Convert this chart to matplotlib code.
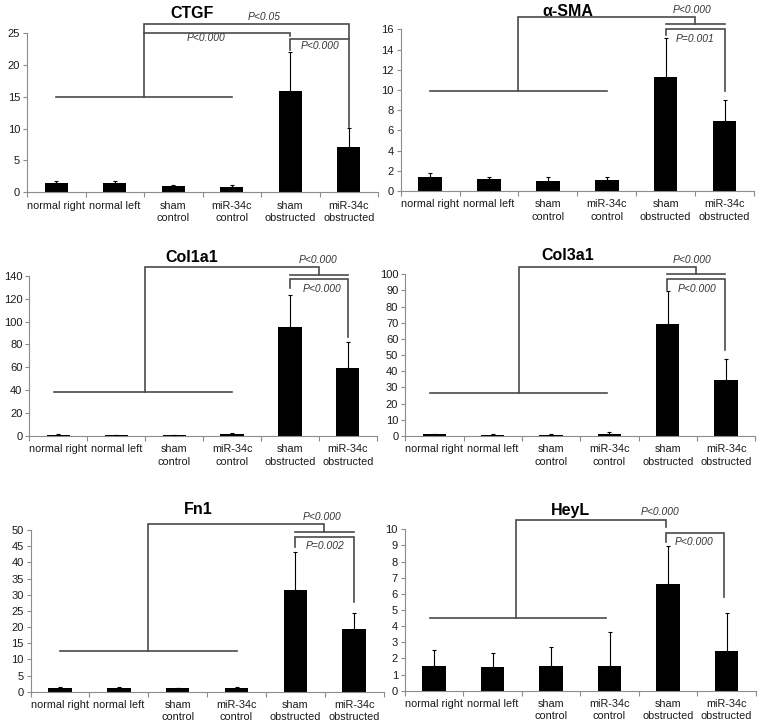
import matplotlib
matplotlib.use("Agg")
import matplotlib.pyplot as plt

plt.rcParams['font.family'] = ['Liberation Sans', 'DejaVu Sans']

# groups shown on every panel
groups = ["normal right", "normal left", "sham\ncontrol", "miR-34c\ncontrol",
          "sham\nobstructed", "miR-34c\nobstructed"]

genes = ["CTGF", "α-SMA", "Col1a1", "Col3a1", "Fn1", "HeyL"]

# mean expression and upper error (SD) per gene
ctgf_mean = [1.4, 1.4, 1.0, 0.85, 16.0, 7.2]
ctgf_err = [0.3, 0.4, 0.2, 0.35, 6.1, 2.9]
sma_mean = [1.35, 1.2, 1.0, 1.1, 11.25, 6.9]
sma_err = [0.45, 0.2, 0.35, 0.25, 3.9, 2.15]
col1_mean = [1.2, 0.7, 0.6, 1.8, 95.5, 59.7]
col1_err = [0.6, 0.5, 0.3, 1.0, 28.0, 22.0]
col3_mean = [1.0, 0.8, 0.8, 1.5, 69.5, 34.8]
col3_err = [0.2, 0.7, 0.4, 0.8, 20.0, 12.8]
fn1_mean = [1.0, 1.0, 1.0, 1.0, 31.3, 19.3]
fn1_err = [0.3, 0.3, 0.1, 0.3, 11.9, 5.0]
heyl_mean = [1.5, 1.45, 1.5, 1.5, 6.6, 2.45]
heyl_err = [1.0, 0.9, 1.2, 2.12, 2.35, 2.35]

means = [ctgf_mean, sma_mean, col1_mean, col3_mean, fn1_mean, heyl_mean]
errs = [ctgf_err, sma_err, col1_err, col3_err, fn1_err, heyl_err]

# y axis max / step
ymax = [25, 16, 140, 100, 50, 10]
ystep = [5, 2, 20, 10, 5, 1]

# significance labels (text, x, y)
pvals = [
    [("P<0.05", 3.56, 27.5), ("P<0.000", 2.56, 24.2), ("P<0.000", 4.51, 23.06)],
    [("P<0.000", 4.45, 17.9), ("P=0.001", 4.5, 15.05)],
    [("P<0.000", 4.48, 153.7), ("P<0.000", 4.55, 128)],
    [("P<0.000", 4.42, 108.9), ("P<0.000", 4.5, 90.9)],
    [("P<0.000", 4.45, 54.1), ("P=0.002", 4.5, 45.0)],
    [("P<0.000", 3.86, 11.05), ("P<0.000", 4.44, 9.19)],
]

# comparison brackets as polylines in data units
brackets = [
    [[(0, 15), (3, 15)],
     [(1.5, 15), (1.5, 26.4), (5, 26.4), (5, 10.3)],
     [(1.5, 25.1), (4, 25.1), (4, 24.5)],
     [(4, 22.3), (4, 24.05), (5, 24.05)]],
    [[(0, 9.93), (3, 9.93)],
     [(1.5, 9.93), (1.5, 17.2), (4.5, 17.2), (4.5, 16.5)],
     [(4, 16.5), (5, 16.5)],
     [(4, 15.4), (4, 16.0), (5, 16.0), (5, 9.9)]],
    [[(-0.07, 38.1), (3, 38.1)],
     [(1.5, 38.1), (1.5, 147.8), (4.5, 147.8), (4.5, 141)],
     [(4, 141), (5, 141)],
     [(4, 129), (4, 136.8), (5, 136.8), (5, 86.7)]],
    [[(-0.07, 26.8), (2.96, 26.8)],
     [(1.45, 26.8), (1.45, 104.7), (4.49, 104.7), (4.49, 100)],
     [(3.98, 100), (4.98, 100)],
     [(3.98, 90.3), (3.98, 96.9), (4.98, 96.9), (4.98, 53.2)]],
    [[(0, 12.7), (3, 12.7)],
     [(1.5, 12.7), (1.5, 51.75), (4.48, 51.75), (4.48, 49.3)],
     [(4, 49.3), (5, 49.3)],
     [(4, 44.8), (4, 47.7), (5, 47.7), (5, 27.8)]],
    [[(-0.07, 4.48), (2.94, 4.48)],
     [(1.4, 4.48), (1.4, 10.58), (3.96, 10.58), (3.96, 10.17)],
     [(3.96, 9.2), (3.96, 9.8), (4.96, 9.8), (4.96, 5.83)]],
]

W, H = 759, 723
# axes boxes in pixels: left, top, right, bottom
boxes = [(27, 33.3, 378, 192.3), (400.6, 29.3, 754, 191),
         (29.4, 275.7, 376.8, 436), (405.2, 274.3, 755.2, 436),
         (30.6, 530, 383.6, 691.7), (404.8, 529.3, 755.8, 690.7)]
# title centres in pixels
title_pos = [(192, 13), (568, 11), (192, 257), (568, 255), (198, 510), (570, 510)]

fig = plt.figure(figsize=(W / 100, H / 100), dpi=100)

spine_c = "#8c8c8c"
brk_c = "#4a4a4a"
txt_c = "#1a1a1a"

for i in range(6):
    l, t, r, b = boxes[i]
    ax = fig.add_axes([l / W, 1 - b / H, (r - l) / W, (b - t) / H])
    x = range(len(groups))
    ax.bar(x, means[i], width=0.4, color="black", zorder=2)
    ax.errorbar(x, means[i], yerr=[[0] * 6, errs[i]], fmt="none", ecolor="black",
                elinewidth=0.8, capsize=1.5, capthick=0.8, zorder=3)
    ax.set_xlim(-0.5, 5.5)
    ax.set_ylim(0, ymax[i])
    ax.set_yticks(range(0, ymax[i] + 1, ystep[i]))
    ax.set_xticks(list(x))
    ax.set_xticklabels(groups, fontsize=7.8, color=txt_c, linespacing=1.3)
    ax.set_xticks([k - 0.5 for k in range(7)], minor=True)
    ax.tick_params(axis="x", which="major", length=0, pad=6)
    ax.tick_params(axis="x", which="minor", length=3.5, color=spine_c, width=0.8)
    ax.tick_params(axis="y", length=3, color=spine_c, width=0.8, labelsize=8, labelcolor=txt_c, pad=2)
    for s in ["top", "right"]:
        ax.spines[s].set_visible(False)
    for s in ["left", "bottom"]:
        ax.spines[s].set_color(spine_c)
        ax.spines[s].set_linewidth(0.8)

    for line in brackets[i]:
        xs = [p[0] for p in line]
        ys = [p[1] for p in line]
        ax.plot(xs, ys, color=brk_c, lw=1.2, clip_on=False, zorder=4,
                solid_joinstyle="miter")
    for txt, tx, ty in pvals[i]:
        ax.text(tx, ty, txt, fontsize=7.4, style="italic", color="#333333",
                ha="center", va="center", clip_on=False)

    fig.text(title_pos[i][0] / W, 1 - title_pos[i][1] / H, genes[i], fontsize=11.5,
             fontweight="bold", ha="center", va="center", color="black")

fig.savefig("out.png", dpi=100)
